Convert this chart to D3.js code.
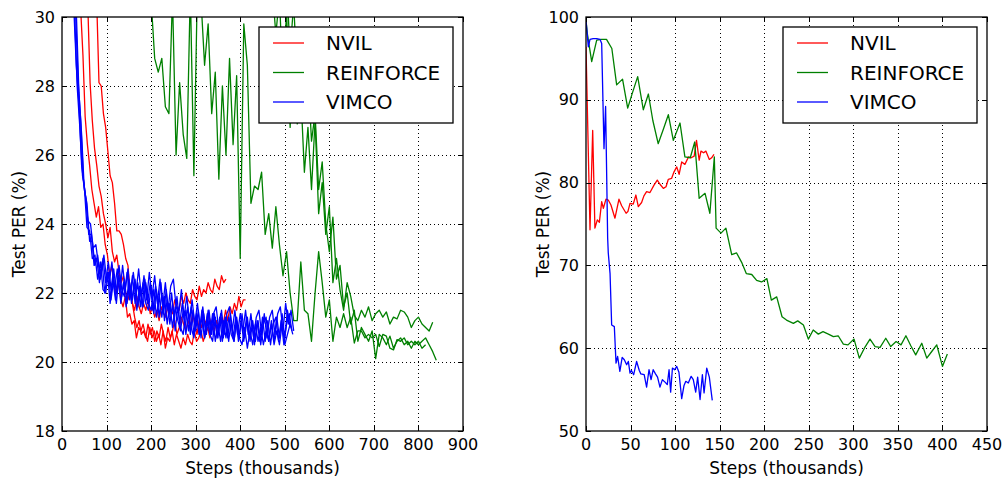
<!DOCTYPE html>
<html lang="en">
<head>
    <meta charset="UTF-8">
    <script src="https://d3js.org/d3.v7.min.js"></script>
    <style>
        body { margin: 0; background: #fff; }
        text { font-family: "DejaVu Sans", sans-serif; fill: #000; }
    </style>
</head>
<body>
    <svg id="chart" width="1005" height="479"></svg>

    <script>
        // ---- data ----
        const seriesNames = ["NVIL", "REINFORCE", "VIMCO"];

        const leftXTicks = [0, 100, 200, 300, 400, 500, 600, 700, 800, 900];
        const leftYTicks = [18, 20, 22, 24, 26, 28, 30];
        const rightXTicks = [0, 50, 100, 150, 200, 250, 300, 350, 400, 450];
        const rightYTicks = [50, 60, 70, 80, 90, 100];

        // left panel: several runs per method, sampled every few thousand steps
        const nvilStarts = [42, 58, 78];
        const nvilStep = 5;
        const nvilRun1 = [30.2, 28.9, 27.1, 26.3, 25.7, 25.0, 24.6, 24.2, 24.5, 23.9, 24.0, 23.4, 23.1, 22.5, 22.8, 22.2, 22.0, 22.3, 21.8, 21.6, 21.9, 21.3, 21.4, 21.1, 21.2, 20.7, 21.0, 20.9, 21.1, 20.8, 20.6, 21.0, 20.7, 20.9, 20.6, 20.8, 20.5, 20.9, 20.4, 20.7, 20.6, 20.9, 20.5, 20.8, 20.6, 20.4, 20.7, 20.5, 20.8, 20.6, 20.5, 20.9, 20.6, 20.7, 20.9, 20.6, 20.8, 21.0, 20.7, 21.1, 20.9, 21.2, 21.0, 21.3, 21.1, 21.5, 21.2, 21.6, 21.4, 21.7, 21.5, 21.9, 21.6, 21.8, 21.8];
        const nvilRun2 = [30.3, 28.1, 27.0, 26.2, 25.7, 25.1, 24.8, 24.3, 24.0, 23.6, 23.9, 23.2, 22.9, 23.1, 22.6, 22.3, 22.5, 22.0, 21.8, 22.1, 21.7, 21.5, 21.9, 21.6, 21.4, 21.7, 21.5, 21.8, 21.4, 21.6, 21.3, 21.5, 21.2, 21.6, 21.4, 21.3, 21.7, 21.5, 21.4, 21.8, 21.6, 21.5, 21.9, 21.7, 22.0, 21.8, 21.7, 22.1, 21.9, 21.8, 22.2, 21.9, 22.1, 22.0, 22.3, 22.1, 22.0, 22.4, 22.2, 22.1, 22.5, 22.3, 22.4];
        const nvilRun3 = [30.4, 28.1, 28.0, 27.2, 26.8, 26.1, 25.4, 25.2, 24.6, 23.8, 23.8, 23.7, 23.4, 23.0, 22.8, 22.0, 21.7, 21.3, 21.0, 21.2, 20.8, 20.9, 20.7, 21.1, 20.8, 21.0, 20.6, 20.9, 20.7, 21.1, 20.8, 20.6, 21.0, 20.7, 20.9, 21.2, 20.8, 21.0, 21.3, 21.1, 20.9, 21.2, 21.0, 21.4, 21.1, 20.8, 21.2, 21.0, 21.3, 21.1, 21.4, 21.2, 21.0];

        const reinforceStarts = [200, 472, 504];
        const reinforceStep = 8;
        const reinforceRun1 = [30.5, 28.8, 28.4, 28.8, 27.4, 27.2, 30.6, 26.0, 28.1, 26.6, 25.9, 30.8, 25.4, 31.0, 30.5, 28.6, 29.8, 27.2, 28.4, 25.3, 28.0, 26.0, 28.8, 26.3, 28.3, 23.0, 29.8, 28.6, 24.6, 25.1, 25.0, 25.5, 23.7, 24.3, 23.3, 24.5, 23.4, 22.5, 23.2, 22.0, 21.2, 21.2, 22.9, 21.5, 21.4, 20.6, 22.0, 23.2, 22.3, 21.3, 21.8, 20.6, 21.3, 21.0, 21.4, 21.0, 21.3, 20.55, 20.9, 20.9, 20.7, 20.8, 20.7, 20.8, 20.45, 20.8, 20.75, 20.4, 20.35, 20.65, 20.6, 20.7, 20.5, 20.6, 20.5, 20.6, 20.4, 20.5];
        const reinforceRun2 = [30.8, 29.5, 30.6, 28.0, 30.2, 26.8, 29.0, 26.9, 27.8, 25.5, 26.8, 25.0, 27.0, 24.3, 25.2, 23.7, 24.5, 22.3, 23.0, 22.1, 21.5, 22.3, 21.9, 21.35, 21.2, 21.5, 21.3, 21.6, 21.2, 21.4, 21.5, 21.3, 21.45, 21.1, 21.3, 21.25, 21.5, 21.45, 21.3, 21.0, 21.2, 21.3, 21.1, 21.0, 20.9, 21.15];
        const reinforceRun3 = [31.0, 29.0, 30.4, 28.2, 29.6, 27.0, 28.4, 26.4, 27.2, 25.0, 25.8, 24.0, 23.2, 24.2, 22.4, 22.8, 21.6, 22.0, 21.1, 21.5, 20.6, 21.0, 20.8, 20.6, 20.9, 20.1, 20.8, 20.7, 20.5, 20.75, 20.4, 20.6, 20.7, 20.5, 20.6, 20.4, 20.6, 20.5, 20.6, 20.7, 20.5, 20.3, 20.05];

        const vimcoStarts = [26, 28, 30, 32];
        const vimcoStep = 6;
        const vimcoRun1 = [30.4, 28.6, 27.5, 25.7, 25.1, 23.9, 23.8, 23.0, 23.1, 22.4, 22.9, 22.1, 22.0, 22.6, 21.8, 22.4, 21.7, 22.5, 21.9, 22.4, 21.7, 22.3, 21.8, 22.4, 21.6, 22.2, 21.6, 22.3, 21.7, 21.5, 22.1, 21.3, 21.9, 21.3, 21.9, 21.1, 21.7, 21.0, 21.6, 21.2, 20.9, 21.5, 20.8, 21.4, 21.0, 20.7, 21.3, 20.8, 21.3, 20.7, 21.2, 20.8, 21.4, 20.6, 21.1, 20.6, 21.2, 20.7, 21.3, 20.8, 20.6, 21.2, 20.7, 20.5, 21.0, 20.4, 20.9, 20.5, 21.1, 20.6, 21.0, 20.5, 20.9, 20.6, 21.1, 20.5, 20.9, 20.5, 21.1, 20.5, 20.8, 21.1, 20.8];
        const vimcoRun2 = [30.2, 28.0, 26.8, 25.4, 24.9, 24.1, 24.0, 23.3, 23.4, 22.8, 22.6, 23.1, 22.4, 22.3, 22.9, 22.1, 22.7, 22.0, 22.8, 22.1, 22.7, 21.9, 22.6, 22.0, 22.7, 21.9, 22.5, 21.8, 22.6, 21.9, 22.5, 21.7, 22.4, 21.6, 22.3, 21.5, 22.2, 22.4, 21.6, 21.4, 22.1, 21.3, 21.9, 21.2, 21.8, 21.1, 21.7, 21.0, 21.6, 20.9, 21.5, 20.8, 21.4, 21.6, 20.9, 21.5, 20.8, 21.4, 21.6, 20.9, 21.5, 20.8, 21.4, 20.9, 21.5, 20.8, 21.4, 20.7, 21.3, 21.5, 20.8, 21.4, 20.7, 21.3, 21.5, 20.8, 21.4, 21.6, 20.9, 21.7, 21.1, 21.5, 20.9];
        const vimcoRun3 = [30.3, 28.2, 27.0, 25.3, 24.7, 23.7, 23.7, 22.8, 23.0, 22.3, 22.9, 22.0, 22.6, 21.7, 22.4, 21.8, 22.5, 21.7, 22.3, 21.6, 22.4, 21.7, 22.3, 21.5, 22.2, 21.6, 22.4, 21.7, 22.3, 21.5, 22.2, 21.6, 22.3, 21.4, 22.1, 21.3, 22.0, 21.2, 21.9, 21.1, 21.7, 21.0, 21.6, 20.8, 21.5, 20.9, 21.5, 20.7, 21.4, 20.8, 21.5, 20.8, 21.4, 20.7, 21.3, 20.6, 21.3, 20.7, 21.4, 20.7, 21.3, 20.6, 21.2, 20.6, 21.3, 20.7, 21.2, 20.5, 21.2, 20.6, 21.3, 20.6, 21.2, 20.5, 21.1, 21.3, 20.6, 21.2, 20.5, 21.1, 21.4, 20.9];
        const vimcoRun4 = [30.2, 27.8, 26.6, 25.0, 24.6, 23.5, 23.5, 22.8, 23.1, 22.4, 23.0, 22.3, 22.9, 22.1, 22.7, 22.0, 22.8, 22.1, 21.9, 22.6, 21.8, 22.5, 21.7, 22.3, 21.6, 22.3, 21.7, 21.5, 22.2, 21.4, 22.1, 21.3, 22.0, 21.2, 21.8, 21.1, 21.7, 20.9, 21.6, 21.0, 20.8, 21.5, 20.9, 21.6, 20.8, 21.4, 20.8, 21.5, 20.7, 21.4, 20.8, 20.6, 21.3, 20.7, 21.4, 20.7, 21.3, 20.6, 21.2, 20.6, 21.3, 20.7, 21.4, 20.7, 21.3, 20.6, 21.2, 20.6, 21.2, 20.5, 21.1, 21.3, 20.6, 21.2, 20.6, 21.3, 20.7, 21.4, 20.7, 21.5, 21.0];

        // right panel: one run per method
        const rightNvilSteps = [0, 4.5, 7.5, 10, 12.7, 15, 17.6, 19.5, 22.4, 25, 28, 32.5, 37, 40, 45, 47, 49.4, 53, 56, 58.7, 62.4, 65, 68, 71.8, 76.3, 80, 83, 86.8, 89.8, 92.4, 96, 98.8, 101.8, 104.5, 107.4, 111, 115, 118, 121.4, 124, 127, 129, 132, 134.6, 138.4, 141, 143.6];
        const rightNvilValues = [96.4, 74.3, 86.3, 74.5, 75.5, 75.2, 77.7, 76.9, 78.0, 77.9, 77.3, 75.7, 78.0, 77.2, 76.3, 76.5, 77.5, 77.4, 78.5, 77.1, 77.6, 78.4, 78.9, 78.8, 79.7, 80.3, 79.8, 79.3, 79.5, 80.4, 80.5, 81.3, 81.9, 81.0, 82.5, 82.2, 83.1, 83.0, 83.2, 85.1, 82.7, 83.8, 83.6, 83.8, 82.8, 83.0, 83.4];

        const rightReinforceSteps = [0, 1.5, 6.4, 12, 17, 23, 29, 34.4, 41, 46.8, 52, 58, 64.3, 70, 75, 81, 87, 92.4, 98, 105.5, 111, 117, 122, 127, 133.6, 139, 144, 146, 151.5, 157, 163.5, 169, 175, 180, 186, 191.5, 197, 203, 208, 214, 220, 225, 232.7, 237.6, 244, 249.5, 255, 260.7, 266, 272, 277.6, 283, 288.8, 294, 300.8, 306.7, 312.4, 318.7, 324.4, 330, 336.4, 342, 348, 353.5, 359, 364.5, 370, 376.8, 382.4, 388, 393.6, 400, 405.5];
        const rightReinforceValues = [99.6, 98.0, 94.6, 97.2, 97.3, 97.3, 96.2, 91.8, 92.5, 89.0, 90.8, 92.8, 88.8, 90.7, 87.5, 84.7, 86.5, 88.2, 85.1, 87.2, 83.1, 83.0, 84.9, 78.1, 78.7, 76.3, 83.1, 74.5, 73.9, 74.5, 71.3, 71.5, 70.3, 69.0, 68.9, 68.2, 68.0, 68.4, 65.8, 66.2, 63.8, 63.4, 63.0, 63.3, 62.8, 61.1, 62.2, 61.7, 62.0, 61.7, 61.4, 61.5, 60.5, 60.4, 61.1, 58.8, 60.0, 61.1, 60.2, 60.1, 61.2, 60.2, 60.8, 60.4, 61.5, 60.3, 59.2, 60.6, 58.8, 59.6, 60.4, 57.8, 59.3];

        const rightVimcoSteps = [0, 2.6, 4.5, 8, 12, 15.7, 17.6, 20.2, 22, 24.3, 25, 27, 28.8, 31.8, 33.7, 35.5, 38, 40.6, 43, 45.6, 47.5, 49.4, 51, 53.5, 56.8, 59.8, 61.5, 65.3, 68, 70.7, 73, 75.4, 78, 80.3, 83, 85.7, 88.7, 91.2, 93.2, 95, 97, 99.5, 101.8, 104.3, 107.4, 110, 112, 114.8, 118, 120.4, 123.1, 125.3, 128, 130.6, 132.5, 135.5, 138.4, 141.7];
        const rightVimcoValues = [99.6, 96.4, 97.3, 97.4, 97.4, 97.3, 96.8, 84.1, 89.2, 73.3, 71.5, 69.0, 62.8, 62.6, 58.2, 59.0, 57.2, 58.9, 58.6, 58.0, 58.4, 57.0, 57.3, 56.8, 58.4, 57.3, 56.9, 56.8, 55.3, 57.4, 56.2, 57.4, 56.9, 56.5, 55.3, 56.2, 55.9, 55.6, 57.4, 54.7, 57.6, 57.4, 57.8, 57.1, 53.9, 55.5, 56.0, 55.8, 56.6, 56.2, 54.7, 56.5, 53.8, 56.8, 54.6, 57.6, 56.5, 53.7];

        // ---- styles ----
        const colors = { NVIL: "#ff0000", REINFORCE: "#008000", VIMCO: "#0000ff" };

        const svg = d3.select("#chart");

        function runPoints(start, step, values) {
            return values.map((v, i) => [start + i * step, v]);
        }
        function pairPoints(steps, values) {
            return steps.map((s, i) => [s, values[i]]);
        }

        function drawPanel(id, box, xDomain, yDomain, xTicks, yTicks, lines, legendBox) {
            const x = d3.scaleLinear().domain(xDomain).range([box.x0, box.x1]);
            const y = d3.scaleLinear().domain(yDomain).range([box.y1, box.y0]);
            const g = svg.append("g");

            g.append("clipPath").attr("id", "clip-" + id)
                .append("rect")
                .attr("x", box.x0).attr("y", box.y0)
                .attr("width", box.x1 - box.x0).attr("height", box.y1 - box.y0);

            // grid
            const grid = g.append("g")
                .attr("stroke", "#000").attr("stroke-width", 1)
                .attr("stroke-dasharray", "1,3");
            xTicks.slice(1, -1).forEach(t => {
                grid.append("line")
                    .attr("x1", Math.round(x(t)) + 0.5).attr("x2", Math.round(x(t)) + 0.5)
                    .attr("y1", box.y0).attr("y2", box.y1);
            });
            yTicks.slice(1, -1).forEach(t => {
                grid.append("line")
                    .attr("y1", Math.round(y(t)) + 0.5).attr("y2", Math.round(y(t)) + 0.5)
                    .attr("x1", box.x0).attr("x2", box.x1);
            });

            // series
            const line = d3.line().x(d => x(d[0])).y(d => y(d[1]));
            const plot = g.append("g").attr("clip-path", `url(#clip-${id})`);
            lines.forEach(l => {
                plot.append("path")
                    .attr("d", line(l.points))
                    .attr("fill", "none")
                    .attr("stroke", colors[l.name])
                    .attr("stroke-width", 1.3)
                    .attr("stroke-linejoin", "round");
            });

            // frame and ticks (inward, on all four sides)
            const ticks = g.append("g").attr("stroke", "#000").attr("stroke-width", 1);
            xTicks.forEach(t => {
                const px = Math.round(x(t)) + 0.5;
                ticks.append("line").attr("x1", px).attr("x2", px).attr("y1", box.y1).attr("y2", box.y1 - 5);
                ticks.append("line").attr("x1", px).attr("x2", px).attr("y1", box.y0).attr("y2", box.y0 + 5);
            });
            yTicks.forEach(t => {
                const py = Math.round(y(t)) + 0.5;
                ticks.append("line").attr("y1", py).attr("y2", py).attr("x1", box.x0).attr("x2", box.x0 + 5);
                ticks.append("line").attr("y1", py).attr("y2", py).attr("x1", box.x1).attr("x2", box.x1 - 5);
            });
            g.append("rect")
                .attr("x", box.x0).attr("y", box.y0)
                .attr("width", box.x1 - box.x0).attr("height", box.y1 - box.y0)
                .attr("fill", "none").attr("stroke", "#000").attr("stroke-width", 1.3);

            // tick labels
            g.selectAll(null).data(xTicks).join("text")
                .attr("x", d => x(d)).attr("y", box.y1 + 13)
                .attr("text-anchor", "middle").attr("dominant-baseline", "central")
                .attr("font-size", 16).text(d => d);
            g.selectAll(null).data(yTicks).join("text")
                .attr("x", box.x0 - 7).attr("y", d => y(d))
                .attr("text-anchor", "end").attr("dominant-baseline", "central")
                .attr("font-size", 16).text(d => d);

            // axis labels
            g.append("text")
                .attr("x", (box.x0 + box.x1) / 2).attr("y", box.y1 + 37)
                .attr("text-anchor", "middle").attr("dominant-baseline", "central")
                .attr("font-size", 17).text("Steps (thousands)");
            g.append("text")
                .attr("transform", `translate(${box.x0 - 43},${(box.y0 + box.y1) / 2}) rotate(-90)`)
                .attr("text-anchor", "middle").attr("dominant-baseline", "central")
                .attr("font-size", 17).text("Test PER (%)");

            // legend
            const lg = g.append("g");
            lg.append("rect")
                .attr("x", legendBox.x).attr("y", legendBox.y)
                .attr("width", legendBox.w).attr("height", legendBox.h)
                .attr("fill", "#fff").attr("stroke", "#000").attr("stroke-width", 1.3);
            seriesNames.forEach((name, i) => {
                const cy = legendBox.y + 16 + i * 29.5;
                lg.append("line")
                    .attr("x1", legendBox.x + 14).attr("x2", legendBox.x + 45)
                    .attr("y1", cy).attr("y2", cy)
                    .attr("stroke", colors[name]).attr("stroke-width", 1.3);
                lg.append("text")
                    .attr("x", legendBox.x + 67).attr("y", cy)
                    .attr("dominant-baseline", "central")
                    .attr("font-size", 20).text(name);
            });
        }

        const leftLines = [
            { name: "NVIL", points: runPoints(nvilStarts[0], nvilStep, nvilRun1) },
            { name: "NVIL", points: runPoints(nvilStarts[1], nvilStep, nvilRun2) },
            { name: "NVIL", points: runPoints(nvilStarts[2], nvilStep, nvilRun3) },
            { name: "REINFORCE", points: runPoints(reinforceStarts[0], reinforceStep, reinforceRun1) },
            { name: "REINFORCE", points: runPoints(reinforceStarts[1], reinforceStep, reinforceRun2) },
            { name: "REINFORCE", points: runPoints(reinforceStarts[2], reinforceStep, reinforceRun3) },
            { name: "VIMCO", points: runPoints(vimcoStarts[0], vimcoStep, vimcoRun1) },
            { name: "VIMCO", points: runPoints(vimcoStarts[1], vimcoStep, vimcoRun2) },
            { name: "VIMCO", points: runPoints(vimcoStarts[2], vimcoStep, vimcoRun3) },
            { name: "VIMCO", points: runPoints(vimcoStarts[3], vimcoStep, vimcoRun4) }
        ];
        const rightLines = [
            { name: "NVIL", points: pairPoints(rightNvilSteps, rightNvilValues) },
            { name: "REINFORCE", points: pairPoints(rightReinforceSteps, rightReinforceValues) },
            { name: "VIMCO", points: pairPoints(rightVimcoSteps, rightVimcoValues) }
        ];

        drawPanel("left", { x0: 62, x1: 463, y0: 17, y1: 431 }, [0, 900], [18, 30],
            leftXTicks, leftYTicks, leftLines, { x: 259, y: 27, w: 194, h: 96 });
        drawPanel("right", { x0: 586, x1: 987, y0: 17, y1: 431 }, [0, 450], [50, 100],
            rightXTicks, rightYTicks, rightLines, { x: 783, y: 27, w: 194, h: 96 });
    </script>
</body>
</html>
